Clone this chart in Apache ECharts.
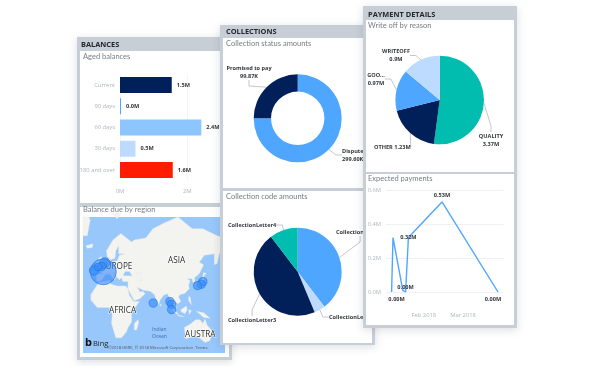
<!DOCTYPE html>
<html>
<head>
<meta charset="utf-8">
<script src="https://cdn.jsdelivr.net/npm/echarts@6/dist/echarts.min.js"></script>
<style>
html,body{margin:0;padding:0;background:#fff}
#main{width:594px;height:366px}
</style>
</head>
<body>
<div id="main"></div>
<script>
// aged balances
var agedNames = ['Current', '90 days', '60 days', '30 days', '180 and over'];
var agedValues = [1.54, 0.03, 2.42, 0.46, 1.57];
var agedColors = ['#01205a', '#4fa6ff', '#8cc5ff', '#bcdbff', '#ff1c00'];

// balance due by region: lon, lat, amount
var regionLon = [0.4, 2.4, -12.6, -2, -7, 70.4, 93.8, 96.2, 96.2, 140, 137.7, 132.6];
var regionLat = [45.8, 53.5, 47, 50.5, 50, 10, 12, 8.4, 1.4, 36, 33, 31.5];
var regionAmount = [100, 15, 13, 11, 9, 10, 10, 10, 10, 10, 10, 10];

// collection status
var statusNames = ['Disputed', 'Promised to pay'];
var statusValues = [299.6, 99.87];

var codeNames = ['CollectionLetter1', 'CollectionLetter2', 'CollectionLetter3', 'CollectionLetter4'];
var codeValues = [39.6, 4.1, 45.9, 10.4];

// write off
var writeNames = ['QUALITY', 'OTHER', 'GOO...', 'WRITEOFF'];
var writeValues = [3.37, 1.23, 0.97, 0.9];
var writeLabels = ['3.37M', '1.23M', '0.97M', '0.9M'];

// expected payments
var payDates = ['2018-01-09', '2018-01-10', '2018-01-17', '2018-01-19', '2018-01-21', '2018-02-14', '2018-03-26'];
var payValues = [0, 0.32, 0.01, 0, 0.32, 0.53, 0];
var payTicks = ['2018-02-01', '2018-03-01'];
var payTickNames = ['Feb 2018', 'Mar 2018'];

// rough coastlines, only a backdrop for the bubbles
var landShapes = [
    [[[-9,37],[-9,43],[-1,44],[-4,48],[2,51],[8,54],[8,57],[11,56],[10,54],[20,55],[23,59],[30,60],[22,60],[22,65],[18,62],[17,57],[12,56],[6,58],[5,62],[14,68],[25,71],[40,67],[44,68],[60,69],[70,73],[85,75],[105,77],[125,73],[140,73],[160,70],[171,69],[171,62],[163,60],[160,53],[156,52],[156,60],[142,59],[135,54],[141,52],[135,44],[128,40],[129,36],[126,35],[125,39],[118,39],[122,37],[120,32],[121,28],[114,22],[108,21],[106,18],[109,12],[105,9],[100,13],[103,3],[100,6],[98,12],[94,16],[90,22],[85,20],[80,14],[78,8],[73,18],[72,21],[66,25],[57,26],[52,28],[48,30],[52,24],[56,25],[59,22],[52,16],[44,13],[39,21],[35,28],[35,36],[28,36],[26,40],[23,38],[20,40],[14,45],[18,40],[16,38],[9,44],[3,43],[0,39],[-5,36],[-9,37]],
     [[28,42],[41,42],[37,46],[31,46],[28,42]],
     [[47,45],[53,45],[54,37],[50,37],[47,45]]],
    [[[-6,35],[10,37],[11,33],[20,31],[32,31],[35,28],[37,20],[43,12],[51,12],[40,-3],[40,-15],[35,-22],[33,-27],[26,-34],[18,-34],[12,-17],[13,-5],[9,4],[-8,4],[-17,14],[-17,21],[-10,30],[-6,35]]],
    [[[114,-22],[122,-18],[130,-12],[136,-12],[140,-17],[143,-11],[146,-19],[153,-26],[150,-37],[143,-39],[135,-34],[128,-32],[116,-35],[114,-22]]],
    [[[95,5],[104,-3],[106,-6],[101,-3],[95,5]]],
    [[[109,1],[117,6],[118,1],[115,-4],[110,-2],[109,1]]],
    [[[105,-7],[114,-8],[114,-7],[106,-6],[105,-7]]],
    [[[131,-1],[141,-3],[150,-10],[141,-9],[135,-4],[131,-1]]],
    [[[120,1],[124,0],[121,-5],[120,1]]],
    [[[120,18],[122,18],[124,8],[120,13],[120,18]]],
    [[[130,32],[136,34],[141,36],[142,43],[145,44],[141,45],[139,38],[133,35],[130,32]]],
    [[[-5,50],[1,51],[-2,58],[-6,57],[-5,50]]],
    [[[-10,52],[-6,52],[-6,55],[-10,54],[-10,52]]],
    [[[-24,65],[-14,66],[-15,64],[-22,63.5],[-24,65]]],
    [[[44,-17],[49,-12],[50,-16],[47,-25],[44,-25],[44,-17]]],
    [[[80,9],[82,7],[80,6],[80,9]]],
    [[[-28,70],[-22,70],[-18,76],[-20,77],[-28,77],[-28,70]]],
    [[[12,78],[25,78],[20,76.5],[12,78]]]
];

var FONT = '"Open Sans"';
var SUBFONT = 'Lato';
var CARD = '#c8ced6';
var mono = '#33363b';
var axisGrey = '#aeb4bd';

echarts.registerMap('world', {
    type: 'FeatureCollection',
    features: landShapes.map(function (p, i) {
        return {type: 'Feature', properties: {name: 'land' + i}, geometry: {type: 'Polygon', coordinates: p}};
    })
});

var RAD = Math.PI / 180;
function mercator(c) {
    return [c[0], -Math.log(Math.tan(Math.PI / 4 + c[1] * RAD / 2)) / RAD];
}
function unmercator(p) {
    return [p[0], (2 * Math.atan(Math.exp(-p[1] * RAD)) - Math.PI / 2) / RAD];
}
function ts(d) { return +new Date(d + 'T00:00:00Z'); }

function card(x, y, w, h, z) {
    return {type: 'rect', z: z, shape: {x: x, y: y, width: w, height: h},
        style: {fill: CARD, shadowBlur: 8, shadowColor: 'rgba(90,100,120,0.22)', shadowOffsetY: 2}};
}
function panel(x, y, w, h, z) {
    return {type: 'rect', z: z, shape: {x: x, y: y, width: w, height: h}, style: {fill: '#fff'}};
}
function head(t, x, y, z) {
    return {type: 'text', z: z, x: x, y: y, style: {text: t, fill: '#24272b', font: 'bold 7.4px ' + FONT, textVerticalAlign: 'middle'}};
}
function sub(t, x, y, z) {
    return {type: 'text', z: z, x: x, y: y, style: {text: t, fill: '#777c83', font: '7.5px ' + SUBFONT, textVerticalAlign: 'middle'}};
}
function mapText(t, x, y, size, color) {
    return {type: 'text', z: 4, x: x, y: y, style: {text: t, fill: color || '#2b2b2b', font: size + 'px ' + FONT,
        textVerticalAlign: 'middle', stroke: 'rgba(255,255,255,0.8)', lineWidth: size > 6 ? 1.2 : 0}};
}

function pieLabelStyle() {
    return {fontFamily: FONT, fontSize: 5.6, fontWeight: 'bold', color: mono, lineHeight: 8};
}
function pieLine() {
    return {show: true, length: 6, length2: 6, lineStyle: {color: '#b5b8bd', width: 0.8}};
}
function placeLabels(spots) {
    return function (p) {
        var s = spots[p.dataIndex];
        return {x: s[0], y: s[1], align: s[2], verticalAlign: 'middle'};
    };
}

var option = {
    animation: false,
    backgroundColor: '#fff',
    textStyle: {fontFamily: FONT},
    graphic: {elements: [
        card(77, 37, 155, 323, 1),
        panel(80, 51, 149, 152, 1),
        panel(80, 207, 149, 150, 1),
        head('BALANCES', 81, 45, 2),
        sub('Aged balances', 83, 57, 2),
        sub('Balance due by region', 83, 210, 2),
        {type: 'rect', z: 2, shape: {x: 83, y: 217, width: 142, height: 136}, style: {fill: '#97c7fb'}},
        mapText('EUROPE', 101, 267, 8.2),
        mapText('ASIA', 168, 261, 8.2),
        mapText('AFRICA', 109, 311, 8.2),
        mapText('AUSTRA', 185, 335, 8.2),
        mapText('Indian', 152, 330, 5, '#3f6fb5'),
        mapText('Ocean', 152, 336.5, 5, '#3f6fb5'),
        {type: 'text', z: 6, x: 85, y: 343, style: {text: 'b', fill: '#111', font: 'bold 11px ' + FONT, textVerticalAlign: 'middle'}},
        {type: 'text', z: 6, x: 93, y: 344, style: {text: 'Bing', fill: '#1c1c1c', font: '7.5px ' + FONT, textVerticalAlign: 'middle'}},
        {type: 'text', z: 6, x: 108, y: 348, style: {text: '©2018 HERE, © 2018 Microsoft Corporation  Terms', fill: '#555', font: '4.2px ' + FONT, textVerticalAlign: 'middle'}},

        card(220, 25, 155, 320, 10),
        panel(223, 38, 149, 150, 10),
        panel(223, 191, 149, 152, 10),
        head('COLLECTIONS', 226, 32, 11),
        sub('Collection status amounts', 226, 44, 11),
        sub('Collection code amounts', 226, 197, 11),

        card(363, 6, 154, 322, 20),
        panel(366, 20, 148, 152, 20),
        panel(366, 174, 148, 151, 20),
        head('PAYMENT DETAILS', 368, 14.5, 21),
        sub('Write off by reason', 368, 26, 21),
        sub('Expected payments', 368, 179, 21)
    ]},
    geo: {
        map: 'world',
        z: 3,
        silent: true,
        projection: {project: mercator, unproject: unmercator},
        boundingCoords: [[-28, 77], [171, -49]],
        left: 83, top: 217, width: 142, height: 136,
        label: {show: false},
        itemStyle: {areaColor: '#f3f3ef', borderColor: '#e8e8e4', borderWidth: 0.4},
        emphasis: {disabled: true}
    },
    grid: [
        {left: 120, top: 74.4, width: 84, height: 106.2, z: 3},
        {left: 386, top: 190, width: 117.6, height: 102, z: 21}
    ],
    xAxis: [
        {type: 'value', gridIndex: 0, min: 0, max: 2.5, interval: 2, z: 3,
            axisLine: {show: false}, axisTick: {show: false},
            splitLine: {showMaxLine: false, lineStyle: {color: '#f1f1f1', width: 0.8}},
            axisLabel: {showMaxLabel: false, color: axisGrey, fontSize: 5.8, margin: 8, formatter: '{value}M'}},
        {type: 'value', gridIndex: 1, min: ts('2018-01-05'), max: ts('2018-03-30'), z: 21,
            axisLine: {show: false}, axisTick: {show: false}, splitLine: {show: false},
            axisLabel: {color: axisGrey, fontSize: 5.8, margin: 20,
                customValues: payTicks.map(ts),
                formatter: function (v) {
                    return payTickNames[payTicks.map(ts).indexOf(v)];
                }}}
    ],
    yAxis: [
        {type: 'category', gridIndex: 0, inverse: true, data: agedNames, z: 3,
            axisLine: {show: false}, axisTick: {show: false},
            axisLabel: {color: axisGrey, fontSize: 5.8, margin: 5}},
        {type: 'value', gridIndex: 1, min: 0, max: 0.6, interval: 0.2, z: 21,
            axisLine: {show: false}, axisTick: {show: false},
            splitLine: {lineStyle: {color: '#eef0f2', width: 1}},
            axisLabel: {color: axisGrey, fontSize: 5.8, margin: 5,
                formatter: function (v) { return v.toFixed(1) + 'M'; }}}
    ],
    series: [
        {type: 'bar', xAxisIndex: 0, yAxisIndex: 0, barWidth: 16, z: 4,
            data: agedValues.map(function (v, i) {
                return {value: v, itemStyle: {color: agedColors[i]}};
            }),
            label: {show: true, position: 'right', distance: 5, fontSize: 5.6, fontWeight: 'bold', color: mono,
                formatter: function (p) { return p.value.toFixed(1) + 'M'; }}},
        {type: 'scatter', coordinateSystem: 'geo', geoIndex: 0, z: 5, silent: true,
            data: regionLon.map(function (lon, i) { return [lon, regionLat[i], regionAmount[i]]; }),
            symbolSize: function (d) { return Math.sqrt(d[2]) * 2.6; },
            itemStyle: {color: 'rgba(56,140,250,0.78)', borderColor: '#1f78e0', borderWidth: 0.8}},
        {type: 'pie', z: 12, center: [297.7, 118.3], radius: [26.7, 44], startAngle: 90, silent: true,
            data: statusNames.map(function (n, i) { return {name: n, value: statusValues[i]}; }),
            color: ['#4fa6ff', '#01205a'],
            label: Object.assign(pieLabelStyle(), {
                formatter: function (p) { return p.name + '\n' + p.value.toFixed(2) + 'K'; }}),
            labelLine: pieLine(),
            labelLayout: placeLabels([[342, 155, 'left'], [249, 72, 'center']])},
        {type: 'pie', z: 12, center: [297.7, 271.7], radius: [0, 44], startAngle: 90, silent: true,
            data: codeNames.map(function (n, i) { return {name: n, value: codeValues[i]}; }),
            color: ['#4fa6ff', '#bcdbff', '#01205a', '#00bdb0'],
            label: Object.assign(pieLabelStyle(), {formatter: '{b}'}),
            labelLine: pieLine(),
            labelLayout: placeLabels([[336, 232, 'left'], [329, 317, 'left'], [228, 320, 'left'], [228, 225, 'left']])},
        {type: 'pie', z: 22, center: [439.7, 100], radius: [0, 44.3], startAngle: 90, silent: true,
            data: writeNames.map(function (n, i) { return {name: n, value: writeValues[i]}; }),
            color: ['#00bdb0', '#01205a', '#4fa6ff', '#bcdbff'],
            label: Object.assign(pieLabelStyle(), {
                formatter: function (p) {
                    var sep = p.name === 'OTHER' ? ' ' : '\n';
                    return p.name + sep + writeLabels[p.dataIndex];
                }}),
            labelLine: pieLine(),
            labelLayout: placeLabels([[491, 140, 'center'], [374, 147, 'left'], [376, 79, 'center'], [396, 55.5, 'center']])},
        {type: 'line', xAxisIndex: 1, yAxisIndex: 1, z: 22, silent: true, showSymbol: true, symbol: 'circle', symbolSize: 0,
            itemStyle: {color: '#4fa6ff'},
            lineStyle: {color: '#4fa6ff', width: 1.4},
            data: payDates.map(function (d, i) {
                var offs = [[5, 7], null, null, [0, -5], [0, 0], [0, -6], [-5, 7]];
                var item = {value: [ts(d), payValues[i]]};
                if (offs[i]) {
                    item.label = {show: true, position: 'inside', offset: offs[i], fontSize: 5.6, fontWeight: 'bold', color: mono,
                        formatter: function (p) { return p.value[1].toFixed(2) + 'M'; }};
                }
                return item;
            })}
    ]
};

var chart = echarts.init(document.getElementById('main'));
chart.setOption(option);
</script>
</body>
</html>
